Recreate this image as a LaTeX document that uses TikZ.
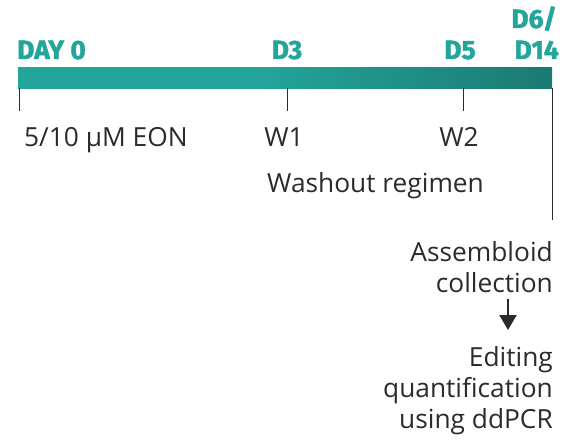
\documentclass[tikz,border=0pt]{standalone}
\usepackage{fontspec}
\setmainfont{Open Sans}
\newfontfamily\dayfont{Fira Sans}[FakeBold=1.6]
\usetikzlibrary{arrows.meta}
\definecolor{tealA}{HTML}{23A59B}
\definecolor{tealB}{HTML}{1B7A73}
\definecolor{ink}{HTML}{2B2B2B}
% flat teal for the first half, darker towards the end
\pgfdeclarehorizontalshading{barshade}{100bp}{color(0bp)=(tealA); color(47bp)=(tealA); color(75bp)=(tealB); color(100bp)=(tealB)}

\begin{document}
\begin{tikzpicture}[x=1pt,y=-1pt,
	day/.style={font=\dayfont\bfseries\fontsize{26.5}{30}\selectfont,text=tealA,inner sep=0pt},
	lbl/.style={font=\fontsize{26.3}{31}\selectfont,text=ink,inner sep=0pt},
	tickline/.style={ink,line width=0.9pt},
	flow/.style={ink,line width=2.3pt,-{Triangle[width=17pt,length=15pt]}}]
		\useasboundingbox (0,0) rectangle (563,441);
		% time bar
		\node[shading=barshade,minimum width=534pt,minimum height=21pt,inner sep=0pt,anchor=north west] (bar) at (18,67) {};
		\node[day,anchor=base west] (day0) at (17,59) {DAY 0};
		\node[day,anchor=base] (d3) at (287,59) {D3};
		\node[day,anchor=base] (d5) at (460,59) {D5};
		\node[day,anchor=base east] (d6) at (557,28) {D6/};
		\node[day,anchor=base east] (d14) at (559,59) {D14};
		% ticks under the bar
		\draw[tickline] (bar.south west) ++(1,0) -- ++(0,23);
		\draw[tickline] (bar.south west) ++(269,0) -- ++(0,23);
		\draw[tickline] (bar.south west) ++(445,0) -- ++(0,23);
		\draw[tickline] (bar.south east) -- ++(0,132);
		\node[lbl,anchor=base west] (eon) at (24,147) {5/10 µM EON};
		\node[lbl,anchor=base] (w1) at (284,147) {W1};
		\node[lbl,anchor=base] (w2) at (459,147) {W2};
		\node[lbl,anchor=base west] (wash) at (267,193) {Washout regimen};
		\node[lbl,align=right,anchor=north east] (coll) at (553,241) {Assembloid\\collection};
		\node[lbl,align=right,anchor=north east] (edit) at (553,346) {Editing\\quantification\\using ddPCR};
		\coordinate (a0) at (508,0);
		\draw[flow,shorten <=6pt,shorten >=16pt] (coll.south -| a0) -- (edit.north -| a0);
	\end{tikzpicture}
\end{document}
